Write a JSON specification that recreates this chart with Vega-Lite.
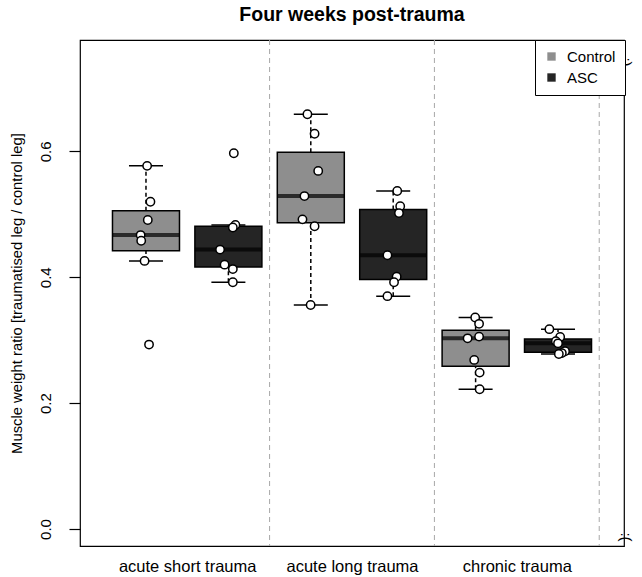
{
  "$schema": "https://vega.github.io/schema/vega-lite/v6.json",
  "width": 544,
  "height": 506,
  "autosize": "none",
  "padding": {"left": 80, "top": 40, "right": 18, "bottom": 31},
  "background": "white",
  "title": {"text": "Four weeks post-trauma", "font": "Liberation Sans", "fontSize": 19.5, "fontWeight": "bold", "color": "black", "offset": 14, "anchor": "middle"},
  "datasets": {
    "pts": [
      {"trauma": "acute short trauma", "group": "Control", "pos": 1, "xj": 1.014, "v": 0.577},
      {"trauma": "acute short trauma", "group": "Control", "pos": 1, "xj": 1.054, "v": 0.520},
      {"trauma": "acute short trauma", "group": "Control", "pos": 1, "xj": 1.022, "v": 0.491},
      {"trauma": "acute short trauma", "group": "Control", "pos": 1, "xj": 0.935, "v": 0.467},
      {"trauma": "acute short trauma", "group": "Control", "pos": 1, "xj": 0.942, "v": 0.458},
      {"trauma": "acute short trauma", "group": "Control", "pos": 1, "xj": 0.983, "v": 0.426},
      {"trauma": "acute short trauma", "group": "Control", "pos": 1, "xj": 1.037, "v": 0.293},
      {"trauma": "acute short trauma", "group": "ASC", "pos": 2, "xj": 2.066, "v": 0.597},
      {"trauma": "acute short trauma", "group": "ASC", "pos": 2, "xj": 2.085, "v": 0.483},
      {"trauma": "acute short trauma", "group": "ASC", "pos": 2, "xj": 2.054, "v": 0.479},
      {"trauma": "acute short trauma", "group": "ASC", "pos": 2, "xj": 1.899, "v": 0.444},
      {"trauma": "acute short trauma", "group": "ASC", "pos": 2, "xj": 1.954, "v": 0.420},
      {"trauma": "acute short trauma", "group": "ASC", "pos": 2, "xj": 2.054, "v": 0.413},
      {"trauma": "acute short trauma", "group": "ASC", "pos": 2, "xj": 2.054, "v": 0.392},
      {"trauma": "acute long trauma", "group": "Control", "pos": 3, "xj": 2.959, "v": 0.659},
      {"trauma": "acute long trauma", "group": "Control", "pos": 3, "xj": 3.046, "v": 0.628},
      {"trauma": "acute long trauma", "group": "Control", "pos": 3, "xj": 3.090, "v": 0.569},
      {"trauma": "acute long trauma", "group": "Control", "pos": 3, "xj": 2.923, "v": 0.529},
      {"trauma": "acute long trauma", "group": "Control", "pos": 3, "xj": 2.899, "v": 0.492},
      {"trauma": "acute long trauma", "group": "Control", "pos": 3, "xj": 3.046, "v": 0.481},
      {"trauma": "acute long trauma", "group": "Control", "pos": 3, "xj": 2.998, "v": 0.356},
      {"trauma": "acute long trauma", "group": "ASC", "pos": 4, "xj": 4.049, "v": 0.537},
      {"trauma": "acute long trauma", "group": "ASC", "pos": 4, "xj": 4.085, "v": 0.513},
      {"trauma": "acute long trauma", "group": "ASC", "pos": 4, "xj": 4.070, "v": 0.502},
      {"trauma": "acute long trauma", "group": "ASC", "pos": 4, "xj": 3.930, "v": 0.435},
      {"trauma": "acute long trauma", "group": "ASC", "pos": 4, "xj": 4.042, "v": 0.401},
      {"trauma": "acute long trauma", "group": "ASC", "pos": 4, "xj": 4.010, "v": 0.392},
      {"trauma": "acute long trauma", "group": "ASC", "pos": 4, "xj": 3.930, "v": 0.370},
      {"trauma": "chronic trauma", "group": "Control", "pos": 5, "xj": 4.995, "v": 0.336},
      {"trauma": "chronic trauma", "group": "Control", "pos": 5, "xj": 5.042, "v": 0.326},
      {"trauma": "chronic trauma", "group": "Control", "pos": 5, "xj": 5.042, "v": 0.3057},
      {"trauma": "chronic trauma", "group": "Control", "pos": 5, "xj": 4.903, "v": 0.303},
      {"trauma": "chronic trauma", "group": "Control", "pos": 5, "xj": 4.983, "v": 0.2687},
      {"trauma": "chronic trauma", "group": "Control", "pos": 5, "xj": 5.049, "v": 0.2485},
      {"trauma": "chronic trauma", "group": "Control", "pos": 5, "xj": 5.049, "v": 0.222},
      {"trauma": "chronic trauma", "group": "ASC", "pos": 6, "xj": 5.895, "v": 0.3175},
      {"trauma": "chronic trauma", "group": "ASC", "pos": 6, "xj": 6.026, "v": 0.305},
      {"trauma": "chronic trauma", "group": "ASC", "pos": 6, "xj": 5.974, "v": 0.2985},
      {"trauma": "chronic trauma", "group": "ASC", "pos": 6, "xj": 6.000, "v": 0.295},
      {"trauma": "chronic trauma", "group": "ASC", "pos": 6, "xj": 6.085, "v": 0.2825},
      {"trauma": "chronic trauma", "group": "ASC", "pos": 6, "xj": 6.046, "v": 0.2795},
      {"trauma": "chronic trauma", "group": "ASC", "pos": 6, "xj": 6.010, "v": 0.278}
    ],
    "dividers": [{"d": 2.5}, {"d": 4.5}, {"d": 6.5}],
    "faces": [{"face": ":)", "v": 0.742}, {"face": ":(", "v": -0.0127}]
  },
  "layer": [
    {
      "data": {"name": "dividers"},
      "mark": {"type": "rule", "color": "#a8a8a8", "strokeDash": [5, 4], "strokeWidth": 1},
      "encoding": {
        "x": {"field": "d", "type": "quantitative", "title": null, "scale": {"domain": [0.26, 6.74], "nice": false, "zero": false},
          "axis": {"values": [1.5, 3.5, 5.5], "labelExpr": "datum.value == 1.5 ? 'acute short trauma' : datum.value == 3.5 ? 'acute long trauma' : 'chronic trauma'"}}
      }
    },
    {
      "data": {"name": "pts"},
      "mark": {
        "type": "boxplot", "orient": "vertical", "size": 67, "extent": 1.5, "outliers": false,
        "box": {"stroke": "black", "strokeWidth": 1.5},
        "median": {"color": "black", "thickness": 4},
        "rule": {"color": "black", "strokeDash": [4, 3], "strokeWidth": 1.5},
        "ticks": {"color": "black", "size": 34, "thickness": 1.5}
      },
      "encoding": {
        "x": {"field": "pos", "type": "quantitative", "title": null, "scale": {"domain": [0.26, 6.74], "nice": false, "zero": false},
          "axis": {"values": [1.5, 3.5, 5.5], "labelExpr": "datum.value == 1.5 ? 'acute short trauma' : datum.value == 3.5 ? 'acute long trauma' : 'chronic trauma'"}},
        "y": {"field": "v", "type": "quantitative", "title": "Muscle weight ratio [traumatised leg / control leg]", "scale": {"domain": [-0.027, 0.777], "nice": false, "zero": false},
          "axis": {"values": [0, 0.2, 0.4, 0.6], "format": ".1f"}},
        "color": {"field": "group", "type": "nominal", "title": null, "sort": ["Control", "ASC"], "scale": {"domain": ["Control", "ASC"], "range": ["#8e8e8e", "#252525"]},
          "legend": {"orient": "none", "legendX": 455, "legendY": 0, "symbolType": "square", "symbolSize": 70, "symbolStrokeWidth": 0, "labelFontSize": 15, "labelFont": "Liberation Sans", "labelColor": "black", "strokeColor": "black", "fillColor": "white", "padding": 9, "rowPadding": 5, "labelOffset": 8}}
      }
    },
    {
      "data": {"name": "pts"},
      "mark": {"type": "circle", "fill": "white", "stroke": "black", "strokeWidth": 1.5, "size": 70, "opacity": 1},
      "encoding": {
        "x": {"field": "xj", "type": "quantitative", "title": null, "scale": {"domain": [0.26, 6.74], "nice": false, "zero": false},
          "axis": {"values": [1.5, 3.5, 5.5], "labelExpr": "datum.value == 1.5 ? 'acute short trauma' : datum.value == 3.5 ? 'acute long trauma' : 'chronic trauma'"}},
        "y": {"field": "v", "type": "quantitative", "title": "Muscle weight ratio [traumatised leg / control leg]", "scale": {"domain": [-0.027, 0.777], "nice": false, "zero": false},
          "axis": {"values": [0, 0.2, 0.4, 0.6], "format": ".1f"}}
      }
    },
    {
      "data": {"name": "faces"},
      "mark": {"type": "text", "angle": 90, "fontSize": 15, "font": "Liberation Sans", "color": "black", "align": "center", "baseline": "middle", "clip": false},
      "encoding": {
        "x": {"datum": 6.83, "type": "quantitative", "title": null, "scale": {"domain": [0.26, 6.74], "nice": false, "zero": false},
          "axis": {"values": [1.5, 3.5, 5.5], "labelExpr": "datum.value == 1.5 ? 'acute short trauma' : datum.value == 3.5 ? 'acute long trauma' : 'chronic trauma'"}},
        "y": {"field": "v", "type": "quantitative", "title": "Muscle weight ratio [traumatised leg / control leg]", "scale": {"domain": [-0.027, 0.777], "nice": false, "zero": false},
          "axis": {"values": [0, 0.2, 0.4, 0.6], "format": ".1f"}},
        "text": {"field": "face"}
      }
    }
  ],
  "config": {
    "view": {"stroke": "black", "strokeWidth": 1.2},
    "axisX": {"ticks": false, "domain": false, "grid": false, "labelFontSize": 16.5, "labelFont": "Liberation Sans", "labelColor": "black", "labelPadding": 12},
    "axisY": {"labelAngle": 270, "domain": false, "grid": false, "ticks": true, "tickSize": 11, "tickColor": "black", "tickWidth": 1.2, "labelFontSize": 15, "labelFont": "Liberation Sans", "labelColor": "black", "labelPadding": 16, "titleFont": "Liberation Sans", "titleFontSize": 14.8, "titleFontWeight": "normal", "titleColor": "black", "titlePadding": 14}
  }
}
